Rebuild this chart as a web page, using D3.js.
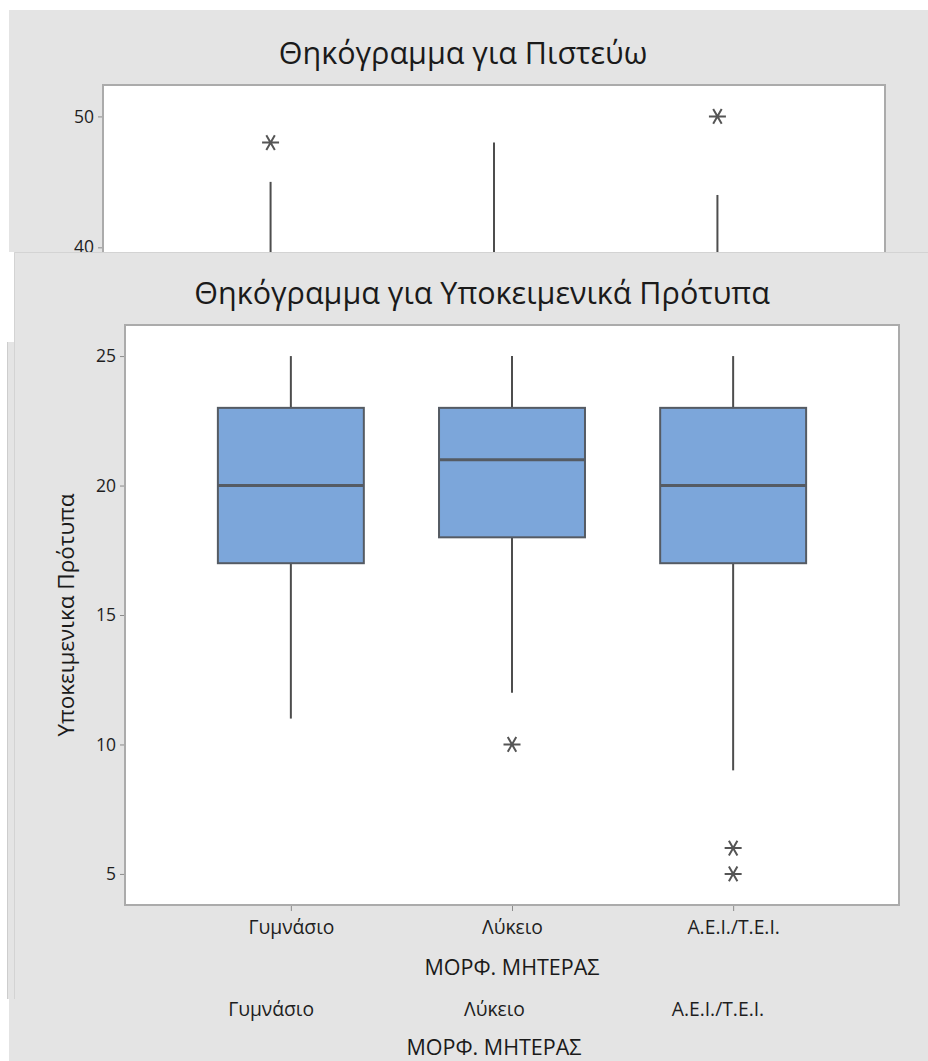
<!DOCTYPE html>
<html>
<head>
<meta charset="utf-8">
<script src="https://cdn.jsdelivr.net/npm/d3@7"></script>
<style>
  html, body { margin: 0; padding: 0; background: #ffffff; }
  svg { display: block; font-family: "Open Sans", "Noto Sans", sans-serif; }
</style>
</head>
<body>
<script>
// Categories shared by both boxplots (mother's education level)
const categories = ["Γυμνάσιο", "Λύκειο", "Α.Ε.Ι./Τ.Ε.Ι."];

// "Πιστεύω" – only the top of this chart stays uncovered
const belMin = [20, 22, 21];
const belQ1 = [30, 31, 30];
const belMedian = [34, 35, 34];
const belQ3 = [38, 39, 38];
const belMax = [45, 48, 44];
const belOutliers = [[48], [], [50]];
const belTicks = [10, 20, 30, 40, 50];

// "Υποκειμενικά Πρότυπα"
const subjMin = [11, 12, 9];
const subjQ1 = [17, 18, 17];
const subjMedian = [20, 21, 20];
const subjQ3 = [23, 23, 23];
const subjMax = [25, 25, 25];
const subjOutliers = [[], [10], [6, 5]];
const subjTicks = [5, 10, 15, 20, 25];

const W = 928, H = 1061;
const panelFill = "#e4e4e4";
const boxFill = "#7ca6da";
const ink = "#4d4d4d";

const svg = d3.select("body").append("svg")
  .attr("width", W).attr("height", H);

svg.append("rect").attr("width", W).attr("height", H).attr("fill", "#ffffff");

// Six-spoke asterisk used for outliers
function asteriskPath(r) {
  const p = d3.path();
  [0, 60, 120].forEach(a => {
    const t = a * Math.PI / 180;
    const dx = r * Math.cos(t), dy = r * Math.sin(t);
    p.moveTo(-dx, -dy); p.lineTo(dx, dy);
  });
  return p.toString();
}

function boxplot(g, o) {
  const x = d3.scalePoint().domain(categories).range([o.left, o.right]).padding(0.75);
  const y = d3.scaleLinear().domain(o.yDomain).range([o.bottom, o.top]);
  const bw = x.step() * 0.66;

  // plot area
  g.append("rect")
    .attr("x", o.left).attr("y", o.top)
    .attr("width", o.right - o.left).attr("height", o.bottom - o.top)
    .attr("fill", "#ffffff").attr("stroke", "#ababab").attr("stroke-width", 2);

  const plot = g.append("g");
  const rows = categories.map((c, i) => ({
    c, min: o.min[i], q1: o.q1[i], med: o.median[i], q3: o.q3[i], max: o.max[i], out: o.outliers[i]
  }));

  const grp = plot.selectAll("g.box").data(rows).join("g").attr("class", "box");

  // whiskers
  grp.append("line")
    .attr("x1", d => x(d.c)).attr("x2", d => x(d.c))
    .attr("y1", d => y(d.max)).attr("y2", d => y(d.q3))
    .attr("stroke", ink).attr("stroke-width", 2);
  grp.append("line")
    .attr("x1", d => x(d.c)).attr("x2", d => x(d.c))
    .attr("y1", d => y(d.q1)).attr("y2", d => y(d.min))
    .attr("stroke", ink).attr("stroke-width", 2);

  // boxes
  grp.append("rect")
    .attr("x", d => x(d.c) - bw / 2).attr("width", bw)
    .attr("y", d => y(d.q3)).attr("height", d => y(d.q1) - y(d.q3))
    .attr("fill", boxFill).attr("stroke", "#555b63").attr("stroke-width", 2);

  // medians
  grp.append("line")
    .attr("x1", d => x(d.c) - bw / 2).attr("x2", d => x(d.c) + bw / 2)
    .attr("y1", d => y(d.med)).attr("y2", d => y(d.med))
    .attr("stroke", "#555b63").attr("stroke-width", 3);

  // outliers
  grp.selectAll("path.out").data(d => d.out.map(v => ({ c: d.c, v })))
    .join("path").attr("class", "out")
    .attr("d", asteriskPath(8.5))
    .attr("transform", d => `translate(${x(d.c)},${y(d.v)})`)
    .attr("fill", "none").attr("stroke", "#555555").attr("stroke-width", 2);

  // y axis
  const ya = g.append("g").attr("transform", `translate(${o.left - 1},0)`)
    .call(d3.axisLeft(y).tickValues(o.ticks).tickSize(4).tickPadding(4).tickFormat(d3.format("d")));
  ya.select(".domain").remove();
  ya.selectAll(".tick line").attr("stroke", "#8c8c8c");
  ya.selectAll(".tick text").attr("fill", "#1e1e1e").attr("font-size", 17.5)
    .attr("font-family", "Open Sans, sans-serif");

  // x axis
  const xa = g.append("g").attr("transform", `translate(0,${o.bottom + 1})`)
    .call(d3.axisBottom(x).tickSize(5).tickPadding(9));
  xa.select(".domain").remove();
  xa.selectAll(".tick line").attr("stroke", "#8c8c8c");
  xa.selectAll(".tick text").attr("fill", "#1e1e1e").attr("font-size", 19.3)
    .attr("font-family", "Open Sans, sans-serif");

  // titles
  g.append("text").attr("x", o.titleX).attr("y", o.titleY)
    .attr("text-anchor", "middle").attr("font-size", 30.5).attr("fill", "#1a1a1a")
    .text(o.title);
  g.append("text").attr("x", (o.left + o.right) / 2).attr("y", o.xTitleY)
    .attr("text-anchor", "middle").attr("font-size", 21.5).attr("fill", "#1a1a1a")
    .text("ΜΟΡΦ. ΜΗΤΕΡΑΣ");
  if (o.yTitle) {
    g.append("text")
      .attr("transform", `translate(${o.yTitleX},${(o.top + o.bottom) / 2}) rotate(-90)`)
      .attr("text-anchor", "middle").attr("dy", "0.35em")
      .attr("font-size", 22.5).attr("fill", "#1a1a1a")
      .text(o.yTitle);
  }
}

// ---- first graph (behind) ----
const back = svg.append("g");
back.append("rect").attr("x", 9).attr("y", 10).attr("width", W - 9).attr("height", H - 10)
  .attr("fill", panelFill);
boxplot(back, {
  left: 103, right: 885, top: 85, bottom: 987,
  yDomain: [-16.5, 52.4], ticks: belTicks,
  min: belMin, q1: belQ1, median: belMedian, q3: belQ3, max: belMax, outliers: belOutliers,
  title: "Θηκόγραμμα για Πιστεύω", titleX: 463, titleY: 64, xTitleY: 1055
});

// ---- second graph (in front) ----
const front = svg.append("g");
front.append("rect").attr("x", 0).attr("y", 252).attr("width", 14).attr("height", 90)
  .attr("fill", "#ffffff");
front.append("rect").attr("x", 7).attr("y", 342).attr("width", 10).attr("height", 657)
  .attr("fill", panelFill);
front.append("line").attr("x1", 7.5).attr("x2", 7.5).attr("y1", 342).attr("y2", 999)
  .attr("stroke", "#cdcdcd").attr("stroke-width", 1);
front.append("rect").attr("x", 14).attr("y", 252).attr("width", W - 14).attr("height", 747)
  .attr("fill", panelFill);
// only the top and left edges of the front panel show a seam
front.append("path")
  .attr("d", `M14.5,999 V252.5 H${W}`)
  .attr("fill", "none").attr("stroke", "#d3d3d3").attr("stroke-width", 1);
boxplot(front, {
  left: 125, right: 899, top: 325, bottom: 905,
  yDomain: [3.8, 26.2], ticks: subjTicks,
  min: subjMin, q1: subjQ1, median: subjMedian, q3: subjQ3, max: subjMax, outliers: subjOutliers,
  title: "Θηκόγραμμα για Υποκειμενικά Πρότυπα", titleX: 482, titleY: 304, xTitleY: 975,
  yTitle: "Υποκειμενικα Πρότυπα", yTitleX: 66
});
</script>
</body>
</html>
